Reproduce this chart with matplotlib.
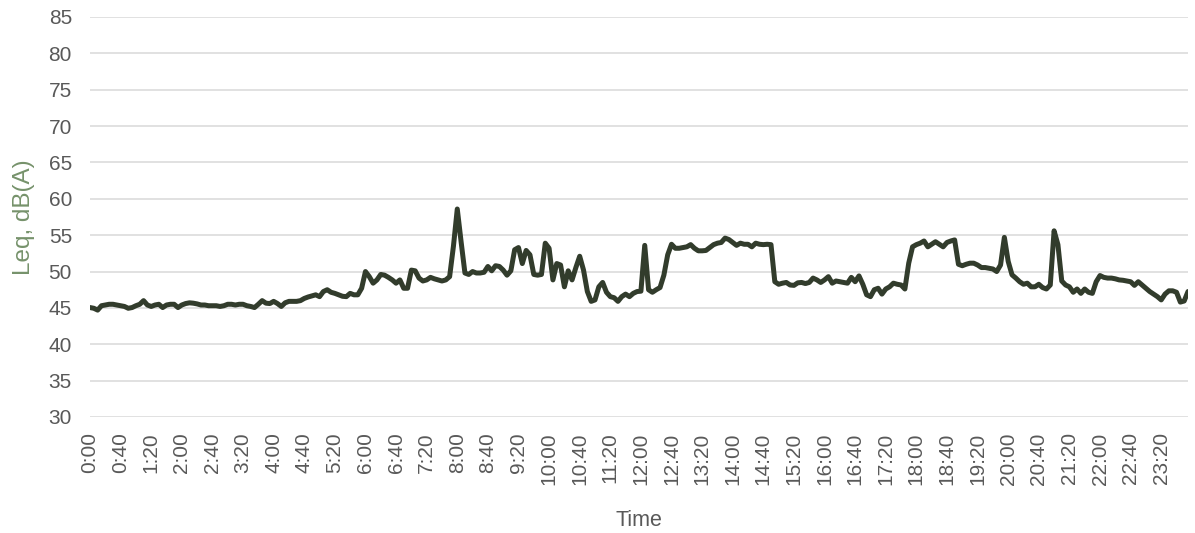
import matplotlib
matplotlib.use("Agg")
import matplotlib.pyplot as plt

# 5-minute categories 0:00 .. 23:55
times = [f"{m // 60}:{m % 60:02d}" for m in range(0, 24 * 60, 5)]

leq = [
    45.05, 44.95, 44.7, 45.3, 45.4, 45.5, 45.5, 45.4, 45.3, 45.2,
    44.95, 45.05, 45.3, 45.5, 46.0, 45.4, 45.2, 45.4, 45.5, 45.05,
    45.4, 45.5, 45.5, 45.05, 45.4, 45.6, 45.7, 45.65, 45.55, 45.4,
    45.4, 45.3, 45.3, 45.3, 45.2, 45.3, 45.5, 45.5, 45.4, 45.5,
    45.5, 45.3, 45.2, 45.05, 45.5, 46.0, 45.65, 45.6, 45.9, 45.6,
    45.2, 45.7, 45.9, 45.9, 45.9, 46.0, 46.3, 46.5, 46.65, 46.8,
    46.55, 47.25, 47.5, 47.15, 47.0, 46.8, 46.6, 46.55, 47.0, 46.8,
    46.8, 47.7, 50.0, 49.3, 48.4, 48.85, 49.6, 49.5, 49.2, 48.85,
    48.4, 48.85, 47.7, 47.7, 50.2, 50.1, 49.1, 48.7, 48.85, 49.2,
    49.0, 48.85, 48.7, 48.85, 49.3, 53.5, 58.6, 54.1, 49.8, 49.6,
    50.0, 49.8, 49.8, 49.9, 50.7, 50.1, 50.8, 50.7, 50.2, 49.5,
    50.1, 53.0, 53.3, 51.1, 52.9, 52.3, 49.6, 49.5, 49.6, 53.9,
    53.2, 48.85, 51.1, 50.9, 47.9, 50.1, 48.85, 50.55, 52.1, 50.2,
    47.25, 45.9, 46.1, 47.9, 48.5, 47.15, 46.55, 46.4, 45.9, 46.55,
    46.9, 46.55, 47.0, 47.25, 47.3, 53.6, 47.5, 47.15, 47.5, 47.8,
    49.5, 52.3, 53.75, 53.2, 53.2, 53.3, 53.4, 53.7, 53.2, 52.85,
    52.85, 52.9, 53.3, 53.7, 53.9, 54.0, 54.6, 54.4, 54.0, 53.6,
    53.9, 53.75, 53.75, 53.4, 53.9, 53.75, 53.7, 53.75, 53.7, 48.6,
    48.25, 48.4, 48.5, 48.15, 48.1, 48.45, 48.5, 48.35, 48.5, 49.1,
    48.85, 48.5, 48.85, 49.3, 48.4, 48.7, 48.6, 48.5, 48.4, 49.2,
    48.6, 49.4, 48.25, 46.8, 46.55, 47.5, 47.7, 46.9, 47.6, 47.9,
    48.4, 48.25, 48.15, 47.6, 51.15, 53.4, 53.7, 53.9, 54.2, 53.4,
    53.75, 54.1, 53.75, 53.4, 54.0, 54.2, 54.35, 51.0, 50.8, 51.0,
    51.15, 51.15, 50.9, 50.55, 50.55, 50.45, 50.35, 50.0, 50.9, 54.7,
    51.4, 49.55, 49.1, 48.6, 48.25, 48.4, 47.9, 47.9, 48.25, 47.8,
    47.6, 48.15, 55.6, 53.7, 48.7, 48.15, 47.9, 47.15, 47.6, 47.0,
    47.6, 47.15, 47.0, 48.6, 49.45, 49.2, 49.1, 49.1, 49.0, 48.85,
    48.8, 48.7, 48.6, 48.1, 48.6, 48.15, 47.7, 47.25, 46.9, 46.55,
    46.1, 46.9, 47.35, 47.35, 47.15, 45.8, 45.95, 47.25,
]

y_ticks = [30, 35, 40, 45, 50, 55, 60, 65, 70, 75, 80, 85]
label_step = 8  # every 40 minutes

plt.rcParams['font.family'] = ['Liberation Sans', 'DejaVu Sans']

fig = plt.figure(figsize=(11.95, 5.33), dpi=100)
ax = fig.add_axes([90 / 1195, 1 - 417 / 533, (1188 - 90) / 1195, (417 - 17) / 533])

x = list(range(len(leq)))
ax.plot(x, leq, color='#323C2C', lw=3.6, solid_joinstyle='round', solid_capstyle='round', zorder=3)

ax.set_xlim(0, len(leq) - 1)
ax.set_ylim(30, 85)
ax.set_yticks(y_ticks)
ax.set_yticklabels([str(v) for v in y_ticks])
ax.set_xticks(x[::label_step])
ax.set_xticklabels(times[::label_step], rotation=90)

ax.grid(axis='y', color='#D9D9D9', lw=1.1)
ax.set_axisbelow(True)
for s in ax.spines.values():
    s.set_visible(False)
ax.tick_params(axis='both', length=0, labelsize=15, labelcolor='#595959')
ax.tick_params(axis='y', pad=13)
ax.tick_params(axis='x', pad=11)

ax.set_ylabel('Leq, dB(A)', fontsize=17.5, color='#76926B', labelpad=10)
ax.set_xlabel('Time', fontsize=15.5, color='#595959', labelpad=18)

fig.savefig('out.png', dpi=100)
